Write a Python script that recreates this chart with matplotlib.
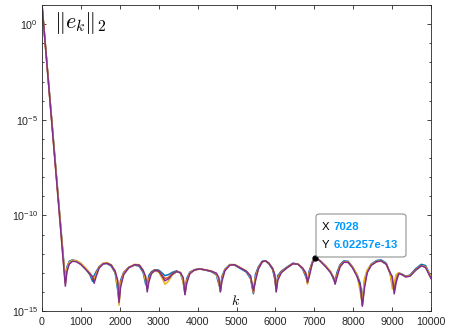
import numpy as np
import matplotlib
matplotlib.use("Agg")
import matplotlib.pyplot as plt
from matplotlib.patches import FancyBboxPatch
from matplotlib.ticker import FixedLocator, LogFormatterSciNotation, NullFormatter

plt.rcParams["font.family"] = ["Liberation Sans", "DejaVu Sans"]
plt.rcParams["mathtext.fontset"] = "cm"
plt.rcParams["axes.unicode_minus"] = False

# iteration index k (shared by all runs)
k = [0, 600, 640, 700, 780, 880, 1000, 1120, 1230, 1300,
     1340, 1390, 1470, 1570, 1670, 1780, 1880, 1945, 1980, 2020,
     2100, 2230, 2380, 2500, 2600, 2665, 2705, 2745, 2810, 2900,
     3000, 3080, 3160, 3250, 3350, 3460, 3560, 3630, 3675, 3720,
     3800, 3920, 4050, 4200, 4350, 4480, 4545, 4585, 4625, 4700,
     4830, 4950, 5100, 5250, 5360, 5435, 5485, 5560, 5660, 5740,
     5830, 5930, 5985, 6020, 6060, 6150, 6300, 6450, 6580, 6700,
     6780, 6825, 6870, 6950, 7030, 7150, 7300, 7420, 7495, 7535,
     7580, 7660, 7760, 7870, 7980, 8100, 8180, 8235, 8290, 8360,
     8460, 8600, 8720, 8850, 8950, 9005, 9055, 9105, 9170, 9260,
     9350, 9460, 9600, 9750, 9860, 9940, 10000]

# log10 of ||e_k||_2, one list per run
log_blue = [1.0, -13.4, -12.7, -12.4, -12.33, -12.37, -12.52, -12.78, -13.1, -13.45,
            -13.15, -12.95, -12.68, -12.52, -12.52, -12.65, -13.0, -13.9, -14.35, -13.4,
            -12.98, -12.72, -12.6, -12.66, -12.98, -13.6, -13.7, -13.15, -12.95, -12.84,
            -12.86, -13.0, -13.15, -13.1, -12.98, -12.9, -13.02, -13.5, -14.0, -13.3,
            -12.97, -12.84, -12.8, -12.86, -12.94, -13.1, -13.6, -13.85, -13.2, -12.82,
            -12.57, -12.6, -12.78, -12.96, -13.3, -14.1, -13.1, -12.7, -12.4, -12.38,
            -12.52, -12.84, -13.35, -13.85, -13.15, -12.92, -12.7, -12.5, -12.55, -12.8,
            -13.2, -13.45, -12.9, -12.42, -12.22, -12.38, -12.66, -12.95, -13.35, -13.45,
            -13.0, -12.58, -12.38, -12.4, -12.68, -13.1, -13.55, -14.4, -13.4, -12.9,
            -12.55, -12.36, -12.33, -12.5, -13.05, -13.6, -13.75, -13.2, -13.0, -13.08,
            -13.18, -13.12, -12.8, -12.56, -12.62, -12.95, -13.2]

log_orange = [1.0, -13.55, -12.85, -12.5, -12.38, -12.4, -12.55, -12.8, -13.05, -13.3,
              -13.4, -13.05, -12.7, -12.52, -12.5, -12.62, -12.95, -13.5, -14.6, -13.5,
              -13.0, -12.72, -12.58, -12.62, -12.9, -13.3, -13.85, -13.3, -13.0, -12.85,
              -12.9, -13.1, -13.3, -13.25, -13.05, -12.92, -13.0, -13.35, -14.1, -13.4,
              -13.0, -12.85, -12.8, -12.85, -12.92, -13.05, -13.35, -13.95, -13.3, -12.85,
              -12.58, -12.58, -12.75, -12.92, -13.2, -14.05, -13.25, -12.75, -12.42, -12.38,
              -12.5, -12.8, -13.2, -13.9, -13.25, -12.95, -12.72, -12.52, -12.55, -12.78,
              -13.1, -13.55, -13.0, -12.45, -12.22, -12.38, -12.68, -12.98, -13.3, -13.5,
              -13.1, -12.62, -12.42, -12.45, -12.72, -13.15, -13.7, -14.7, -13.6, -12.95,
              -12.6, -12.42, -12.38, -12.55, -13.05, -13.4, -13.95, -13.3, -13.02, -13.1,
              -13.2, -13.15, -12.85, -12.62, -12.7, -13.0, -13.25]

log_yellow = [1.0, -13.5, -12.8, -12.46, -12.35, -12.37, -12.5, -12.75, -13.0, -13.25,
              -13.3, -13.1, -12.72, -12.5, -12.47, -12.58, -12.9, -13.7, -14.7, -13.6,
              -13.05, -12.74, -12.56, -12.58, -12.85, -13.45, -13.75, -13.4, -13.05, -12.9,
              -12.97, -13.25, -13.6, -13.45, -13.12, -12.95, -12.98, -13.5, -14.1, -13.45,
              -13.02, -12.86, -12.8, -12.85, -12.9, -13.05, -13.45, -14.0, -13.35, -12.87,
              -12.58, -12.57, -12.73, -12.9, -13.2, -14.0, -13.3, -12.78, -12.44, -12.37,
              -12.48, -12.76, -13.15, -14.0, -13.3, -12.98, -12.74, -12.53, -12.54, -12.75,
              -13.05, -13.6, -13.05, -12.48, -12.23, -12.36, -12.66, -12.95, -13.25, -13.55,
              -13.2, -12.66, -12.44, -12.44, -12.68, -13.1, -14.0, -14.6, -13.3, -12.85,
              -12.58, -12.4, -12.38, -12.54, -13.0, -13.85, -13.5, -13.1, -13.0, -13.1,
              -13.2, -13.15, -12.86, -12.64, -12.68, -12.98, -13.22]

log_purple = [1.0, -13.7, -12.95, -12.55, -12.4, -12.42, -12.57, -12.82, -13.05, -13.2,
              -13.55, -13.2, -12.75, -12.54, -12.5, -12.6, -12.92, -13.4, -14.55, -13.75,
              -13.1, -12.74, -12.58, -12.6, -12.88, -13.2, -14.0, -13.5, -13.05, -12.88,
              -12.92, -13.15, -13.42, -13.32, -13.08, -12.94, -13.0, -13.25, -14.15, -13.55,
              -13.05, -12.86, -12.8, -12.85, -12.92, -13.02, -13.25, -14.0, -13.45, -12.9,
              -12.6, -12.58, -12.75, -12.92, -13.15, -13.95, -13.45, -12.82, -12.43, -12.37,
              -12.5, -12.78, -13.1, -14.0, -13.4, -13.0, -12.74, -12.53, -12.55, -12.76,
              -13.0, -13.5, -13.2, -12.5, -12.23, -12.38, -12.7, -13.0, -13.25, -13.6,
              -13.25, -12.7, -12.45, -12.46, -12.73, -13.2, -13.65, -14.75, -13.8, -13.0,
              -12.62, -12.42, -12.38, -12.56, -13.0, -13.2, -14.1, -13.5, -13.05, -13.1,
              -13.22, -13.18, -12.88, -12.64, -12.72, -13.05, -13.3]

series = [log_blue, log_orange, log_yellow, log_purple]
colors = ["#0072BD", "#D95319", "#EDB120", "#7E2F8E"]

# data tip
tip_x = 7028
tip_y = 6.02257e-13

fig = plt.figure(figsize=(4.5, 3.31), dpi=100)
ax = fig.add_axes([42 / 450, 20 / 331, 389 / 450, 306 / 331])

for vals, c in zip(series, colors):
    ax.semilogy(k, 10.0 ** np.array(vals), color=c, lw=1.1)

ax.set_xlim(0, 10000)
ax.set_ylim(1e-15, 1e1)
ax.set_xticks(np.arange(0, 10001, 1000))
ax.yaxis.set_major_locator(FixedLocator([1e-15, 1e-10, 1e-5, 1e0]))
ax.yaxis.set_minor_locator(FixedLocator([10.0 ** e for e in range(-15, 2)]))
ax.yaxis.set_minor_formatter(NullFormatter())
ax.yaxis.set_major_formatter(LogFormatterSciNotation())

ax.tick_params(which="both", direction="in", top=True, right=True,
               labelsize=7.7, color="#262626", labelcolor="#262626")
ax.tick_params(which="major", length=3.2, width=0.6)
ax.tick_params(which="minor", length=1.7, width=0.6)
ax.tick_params(axis="x", pad=4)
ax.tick_params(axis="y", pad=3)
for s in ax.spines.values():
    s.set_color("#262626")
    s.set_linewidth(0.6)

ax.text(0.03, 0.985, r"$\Vert e_k\Vert_2$", transform=ax.transAxes,
        fontsize=16, ha="left", va="top")
ax.text(0.497, 0.02, r"$k$", transform=ax.transAxes, fontsize=10,
        ha="center", va="baseline")

# data tip marker and box
ax.plot(tip_x, tip_y, "o", color="k", ms=3.5, zorder=5)
box = FancyBboxPatch((316 / 450, 74 / 331), 90 / 450, 43 / 331,
                     boxstyle="round,pad=0,rounding_size=0.008",
                     transform=fig.transFigure, fc="white", ec="#8c8c8c",
                     lw=0.8, alpha=0.95, zorder=6)
fig.add_artist(box)
row1 = (331 - 227.5) / 331
row2 = (331 - 244.5) / 331
fig.text(322 / 450, row1, "X", fontsize=8.2, va="center", zorder=7)
fig.text(334 / 450, row1, f"{tip_x}", fontsize=8.2, va="center",
         color="#0099ff", weight="bold", zorder=7)
fig.text(322 / 450, row2, "Y", fontsize=8.2, va="center", zorder=7)
fig.text(334 / 450, row2, f"{tip_y:g}", fontsize=8.2, va="center",
         color="#0099ff", weight="bold", zorder=7)

fig.savefig("out.png", dpi=100)
